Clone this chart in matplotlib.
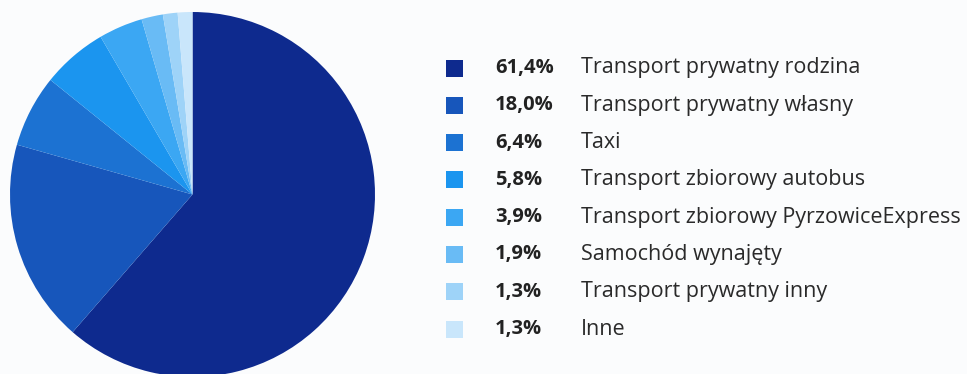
import matplotlib
matplotlib.use("Agg")
import matplotlib.pyplot as plt
from matplotlib.patches import Rectangle

# udział środków transportu
labels = ["Transport prywatny rodzina", "Transport prywatny własny", "Taxi",
          "Transport zbiorowy autobus", "Transport zbiorowy PyrzowiceExpress",
          "Samochód wynajęty", "Transport prywatny inny", "Inne"]
shares = [61.4, 18.0, 6.4, 5.8, 3.9, 1.9, 1.3, 1.3]
colors = ["#0e2a8e", "#1756bb", "#1c72d2", "#1b95ef", "#3ba7f3",
          "#69bbf5", "#9ed3f8", "#c9e6fb"]

W, H = 967, 374
bg = "#fbfcfd"
fig = plt.figure(figsize=(W / 100, H / 100), dpi=100, facecolor=bg)

# pie: centre (192.5, 194.5) px from top-left, radius 182.5 px
cx, cy, r = 192.5, 194.5, 182.5
ax = fig.add_axes([(cx - r) / W, 1 - (cy + r) / H, 2 * r / W, 2 * r / H])
ax.pie(shares, colors=colors, startangle=90, counterclock=False, radius=1,
       wedgeprops=dict(linewidth=0))
ax.set_xlim(-1, 1)
ax.set_ylim(-1, 1)
ax.axis("off")

# legend
y0, dy = 68, 37.3
for i, (lab, v, c) in enumerate(zip(labels, shares, colors)):
    y = y0 + i * dy
    fig.patches.append(Rectangle((446 / W, 1 - (y + 8.5) / H), 17 / W, 17 / H,
                                 transform=fig.transFigure, facecolor=c,
                                 edgecolor="none"))
    pct = f"{v:.1f}".replace(".", ",") + "%"
    fig.text(495 / W, 1 - y / H, pct, fontsize=14.5, fontweight="bold",
             family="Open Sans", color="#222222", va="center", ha="left")
    fig.text(581 / W, 1 - y / H, lab, fontsize=15.5, family="Open Sans",
             color="#2a2a2a", va="center", ha="left")

fig.savefig("out.png", dpi=100, facecolor=bg)
